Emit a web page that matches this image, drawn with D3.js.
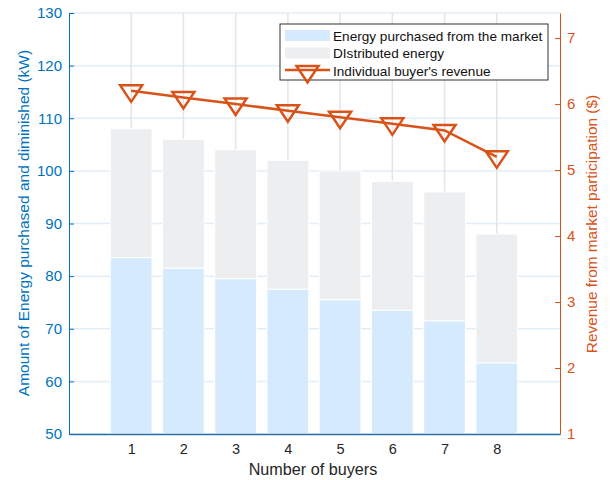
<!DOCTYPE html>
<html>
<head>
<meta charset="utf-8">
<script src="https://cdn.jsdelivr.net/npm/d3@7"></script>
<style>
  html, body { margin: 0; padding: 0; background: #fff; }
  svg { display: block; font-family: "Liberation Sans", Arial, Helvetica, sans-serif; }
</style>
</head>
<body>
<svg id="chart" width="610" height="480"></svg>
<script>
// Buyers and their energy / revenue figures
const buyers = [1, 2, 3, 4, 5, 6, 7, 8];
const purchased = [83.5, 81.5, 79.5, 77.5, 75.5, 73.5, 71.5, 63.5];
const totalEnergy = [108, 106, 104, 102, 100, 98, 96, 88];
const revenue = [6.2, 6.1, 6.0, 5.9, 5.8, 5.7, 5.6, 5.2];
const leftTicks = [50, 60, 70, 80, 90, 100, 110, 120, 130];
const rightTicks = [1, 2, 3, 4, 5, 6, 7];

const blue = "#0072BD", orange = "#D95319";
const colPurchased = "#d5ebfd", colDistributed = "#eceef0";

const svg = d3.select("#chart");
const L = 69, R = 560, T = 13, B = 434;

const x = d3.scaleLinear().domain([-0.19, 9.21]).range([L, R]);
const yL = d3.scaleLinear().domain([50, 130]).range([B, T]);
const yR = d3.scaleLinear().domain([1, 7.38]).range([B, T]);
const barW = (x(2) - x(1)) * 0.8;

// grid
const grid = svg.append("g");
grid.selectAll("line.h").data(leftTicks).join("line")
  .attr("x1", L).attr("x2", R).attr("y1", d => yL(d)).attr("y2", d => yL(d))
  .attr("stroke", "#e3edf7").attr("stroke-width", 1.5);
grid.selectAll("line.v").data(buyers).join("line")
  .attr("x1", d => x(d)).attr("x2", d => x(d)).attr("y1", T).attr("y2", B)
  .attr("stroke", "#e4e4e6").attr("stroke-width", 1.5);

// stacked bars
const bars = svg.append("g");
bars.selectAll("rect.dist").data(buyers).join("rect")
  .attr("x", d => x(d) - barW / 2).attr("width", barW)
  .attr("y", (d, i) => yL(totalEnergy[i]))
  .attr("height", (d, i) => yL(purchased[i]) - yL(totalEnergy[i]))
  .attr("fill", colDistributed).attr("stroke", "#fff").attr("stroke-width", 1);
bars.selectAll("rect.pur").data(buyers).join("rect")
  .attr("x", d => x(d) - barW / 2).attr("width", barW)
  .attr("y", (d, i) => yL(purchased[i]))
  .attr("height", (d, i) => yL(50) - yL(purchased[i]))
  .attr("fill", colPurchased).attr("stroke", "#fff").attr("stroke-width", 1);

// downward triangle centred on its centroid
const tri = (cx, cy) => {
  const w = 22, h = 16.5;
  return `M${cx - w / 2},${cy - h / 3}L${cx + w / 2},${cy - h / 3}L${cx},${cy + 2 * h / 3}Z`;
};

// revenue line with markers
svg.append("path")
  .datum(buyers)
  .attr("d", d3.line().x(d => x(d)).y((d, i) => yR(revenue[i])))
  .attr("fill", "none").attr("stroke", orange).attr("stroke-width", 2.5);
svg.append("g").selectAll("path").data(buyers).join("path")
  .attr("d", (d, i) => tri(x(d), yR(revenue[i])))
  .attr("fill", "none").attr("stroke", orange).attr("stroke-width", 2.5);

// axes
const axL = svg.append("g").attr("transform", `translate(${L},0)`)
  .call(d3.axisLeft(yL).tickValues(leftTicks).tickSizeInner(-5).tickSizeOuter(0).tickPadding(7));
axL.select(".domain").attr("stroke", blue).attr("stroke-width", 1);
axL.selectAll(".tick line").attr("stroke", blue);
axL.selectAll(".tick text").attr("fill", blue).attr("font-size", 15).attr("font-family", "Liberation Sans, Arial, sans-serif");

const axR = svg.append("g").attr("transform", `translate(${R},0)`)
  .call(d3.axisRight(yR).tickValues(rightTicks).tickFormat(d3.format("d")).tickSizeInner(-5).tickSizeOuter(0).tickPadding(7));
axR.select(".domain").attr("stroke", orange).attr("stroke-width", 1);
axR.selectAll(".tick line").attr("stroke", orange);
axR.selectAll(".tick text").attr("fill", orange).attr("font-size", 15).attr("font-family", "Liberation Sans, Arial, sans-serif");

const axB = svg.append("g").attr("transform", `translate(0,${B})`)
  .call(d3.axisBottom(x).tickValues(buyers).tickFormat(d3.format("d")).tickSize(0).tickPadding(10));
axB.select(".domain").attr("stroke", "#2b6ea6").attr("stroke-width", 1.5);
axB.selectAll(".tick text").attr("fill", "#262626").attr("font-size", 14.5).attr("font-family", "Liberation Sans, Arial, sans-serif");

// axis titles
svg.append("text").attr("transform", `translate(29,223) rotate(-90)`)
  .attr("text-anchor", "middle").attr("fill", blue).attr("font-size", 15.5)
  .text("Amount of Energy purchased and diminished (kW)");
svg.append("text").attr("transform", `translate(597,224) rotate(-90)`)
  .attr("text-anchor", "middle").attr("fill", orange).attr("font-size", 15.4)
  .text("Revenue from market participation ($)");
svg.append("text").attr("x", 313).attr("y", 475)
  .attr("text-anchor", "middle").attr("fill", "#262626").attr("font-size", 16.2)
  .text("Number of buyers");

// legend
const lg = svg.append("g").attr("transform", "translate(280,24)");
lg.append("rect").attr("width", 268).attr("height", 56)
  .attr("fill", "#fff").attr("stroke", "#333").attr("stroke-width", 1);
lg.append("rect").attr("x", 5).attr("y", 6).attr("width", 45).attr("height", 11).attr("fill", colPurchased);
lg.append("rect").attr("x", 5).attr("y", 23.5).attr("width", 45).attr("height", 11).attr("fill", colDistributed);
lg.append("line").attr("x1", 5).attr("x2", 50).attr("y1", 46).attr("y2", 46)
  .attr("stroke", orange).attr("stroke-width", 2.5);
lg.append("path").attr("d", tri(27.5, 47.5))
  .attr("fill", "none").attr("stroke", orange).attr("stroke-width", 2.5);
const names = ["Energy purchased from the market", "DIstributed energy", "Individual buyer's revenue"];
lg.selectAll("text").data(names).join("text")
  .attr("x", 53).attr("y", (d, i) => 16.5 + i * 17.6)
  .attr("font-size", 13.6).attr("fill", "#111").text(d => d);
</script>
</body>
</html>
